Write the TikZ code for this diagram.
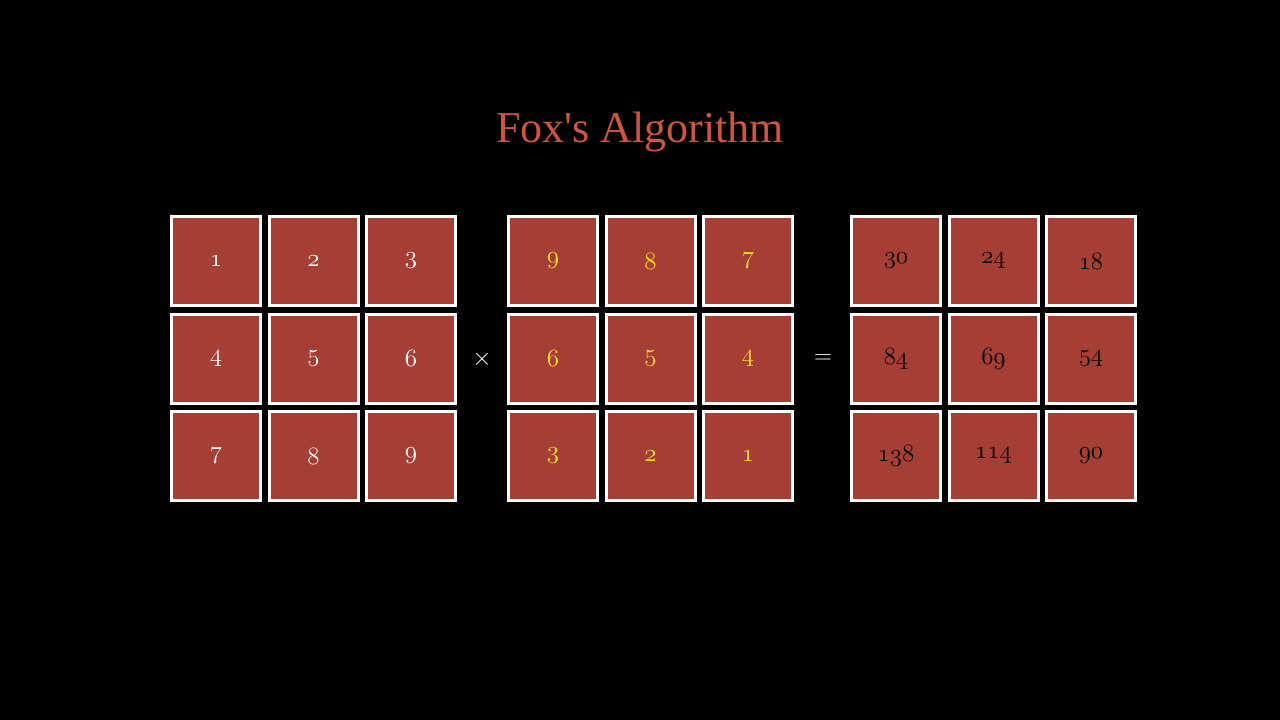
\documentclass[tikz,border=0pt]{standalone}
\usepackage{fontspec}
\newfontfamily\titlefont{Liberation Serif}
\definecolor{cellred}{RGB}{165,62,52}
\definecolor{titlered}{RGB}{205,85,65}
\definecolor{numyellow}{RGB}{255,230,40}
\newcommand{\osn}[1]{$\mathnormal{#1}$}
\begin{document}
\begin{tikzpicture}[x=1pt,y=-1pt,
  cell/.style={draw=white,line width=3pt,fill=cellred,minimum size=89pt,inner sep=0pt,font=\fontsize{30}{32}\selectfont},
  wnum/.style={cell,text=white},
  ynum/.style={cell,text=numyellow},
  bnum/.style={cell,text=black}]
\fill[black] (0,0) rectangle (1280,720);
\useasboundingbox (0,0) rectangle (1280,720);
\node[text=titlered,font=\titlefont\fontsize{44}{48}\selectfont] (title) at (640,132) {Fox's Algorithm};
\foreach \v [count=\i from 0] in {1,2,3,4,5,6,7,8,9}{
  \pgfmathtruncatemacro\c{mod(\i,3)}
  \pgfmathtruncatemacro\r{div(\i,3)}
  \node[wnum] (a\i) at (216+97.5*\c,261+97.5*\r) {\osn{\v}};}
\foreach \v [count=\i from 0] in {9,8,7,6,5,4,3,2,1}{
  \pgfmathtruncatemacro\c{mod(\i,3)}
  \pgfmathtruncatemacro\r{div(\i,3)}
  \node[ynum] (b\i) at (553+97.5*\c,261+97.5*\r) {\osn{\v}};}
\foreach \v [count=\i from 0] in {30,24,18,84,69,54,138,114,90}{
  \pgfmathtruncatemacro\c{mod(\i,3)}
  \pgfmathtruncatemacro\r{div(\i,3)}
  \node[bnum] (c\i) at (896+97.5*\c,261+97.5*\r) {\osn{\v}};}
\node[text=white,font=\fontsize{44}{46}\selectfont] (times) at (482,359) {$\times$};
\node[text=white,font=\fontsize{48}{50}\selectfont] (eq) at (823,359) {$=$};
\end{tikzpicture}
\end{document}
